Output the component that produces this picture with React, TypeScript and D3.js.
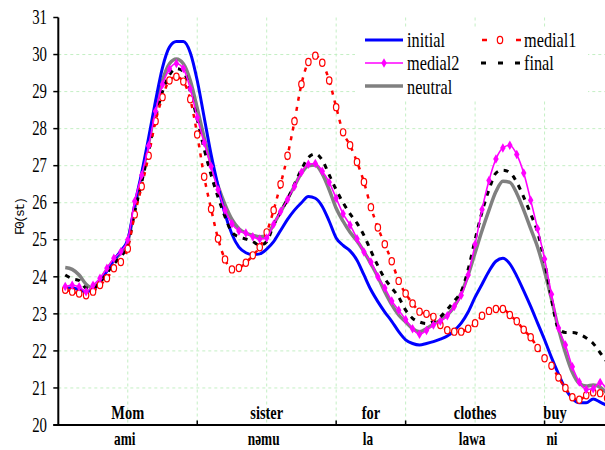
import { useEffect, useRef } from "react";
import * as d3 from "d3";

// normalized time frames (x positions)
const frames = d3.range(1, 80);

const initial = [
  23.7, 23.7, 23.65, 23.6, 23.65, 23.85, 24.15, 24.45, 24.7, 25.0,
  25.95, 26.8, 27.75, 28.75, 29.65, 30.2, 30.35, 30.35, 30.05, 29.3,
  28.3, 27.3, 26.45, 25.7, 25.15, 24.8, 24.65, 24.6, 24.62, 24.75,
  24.95, 25.25, 25.55, 25.8, 26.0, 26.17, 26.12, 25.9, 25.5, 25.05,
  24.85, 24.7, 24.45, 24.05, 23.65, 23.33, 23.05, 22.8, 22.52, 22.3,
  22.2, 22.16, 22.2, 22.25, 22.32, 22.4, 22.55, 22.75, 23.05, 23.45,
  23.8, 24.15, 24.42, 24.5, 24.35, 24.02, 23.62, 23.2, 22.75, 22.3,
  21.82, 21.38, 20.98, 20.72, 20.6, 20.6, 20.7, 20.62, 20.52,
];

const medial1 = [
  23.65, 23.6, 23.55, 23.5, 23.6, 23.78, 23.96, 24.23, 24.4, 24.76,
  25.68, 26.44, 27.27, 28.2, 28.85, 29.3, 29.4, 29.27, 28.79, 27.84,
  26.7, 25.83, 25.03, 24.47, 24.2, 24.24, 24.38, 24.58, 24.8, 25.2,
  25.8, 26.5, 27.27, 28.2, 29.2, 29.8, 29.97, 29.78, 29.3, 28.58,
  27.9, 27.55, 27.1, 26.56, 25.88, 25.33, 24.88, 24.42, 23.89, 23.55,
  23.28, 23.06, 23.0, 22.92, 22.7, 22.56, 22.52, 22.52, 22.6, 22.75,
  22.95, 23.08, 23.13, 23.13, 22.97, 22.8, 22.57, 22.37, 22.08, 21.8,
  21.6, 21.28, 21.0, 20.75, 20.68, 20.8, 20.88, 20.86, 20.73,
];

const medial2 = [
  23.74, 23.77, 23.73, 23.6, 23.77, 23.96, 24.23, 24.5, 24.68, 25.0,
  26.04, 26.74, 27.54, 28.47, 29.19, 29.61, 29.76, 29.62, 29.08, 28.3,
  27.62, 26.98, 26.35, 25.8, 25.43, 25.24, 25.18, 25.08, 25.02, 25.05,
  25.42, 25.76, 26.09, 26.44, 26.82, 27.04, 27.06, 26.85, 26.55, 26.12,
  25.7, 25.4, 25.03, 24.67, 24.4, 24.0, 23.7, 23.35, 23.1, 22.85,
  22.6, 22.45, 22.55, 22.7, 22.8, 22.95, 23.2, 23.5, 24.05, 24.88,
  25.82, 26.6, 27.18, 27.48, 27.55, 27.3, 26.8, 26.07, 25.3, 24.48,
  23.53, 22.62, 22.16, 21.57, 21.16, 20.96, 20.98, 21.15, 20.94,
];

const final = [
  24.05, 23.95, 23.9, 23.7, 23.7, 23.85, 24.1, 24.35, 24.55, 24.85,
  25.75, 26.55, 27.4, 28.3, 29.0, 29.45, 29.62, 29.55, 29.0, 28.25,
  27.45, 26.75, 26.15, 25.62, 25.2, 25.08, 25.02, 24.95, 24.85, 24.95,
  25.4, 25.75, 26.1, 26.5, 26.9, 27.22, 27.32, 27.15, 26.75, 26.35,
  26.0, 25.7, 25.45, 25.12, 24.7, 24.3, 23.95, 23.7, 23.45, 23.1,
  22.88, 22.78, 22.74, 22.8, 22.92, 23.12, 23.35, 23.6, 24.2, 25.0,
  25.75, 26.35, 26.8, 26.88, 26.82, 26.55, 26.15, 25.7, 25.2, 24.4,
  23.4, 22.6, 22.5, 22.5, 22.45, 22.35, 22.2, 21.95, 21.7,
];

const neutral = [
  24.25, 24.2, 24.05, 23.8, 23.7, 23.9, 24.2, 24.45, 24.65, 24.95,
  25.85, 26.7, 27.6, 28.55, 29.3, 29.75, 29.88, 29.75, 29.3, 28.55,
  27.75, 27.05, 26.45, 25.95, 25.55, 25.3, 25.18, 25.12, 25.08, 25.12,
  25.42, 25.75, 26.1, 26.45, 26.8, 27.0, 27.02, 26.78, 26.35, 25.85,
  25.5, 25.2, 24.97, 24.68, 24.35, 24.0, 23.6, 23.25, 22.97, 22.78,
  22.6, 22.52, 22.6, 22.72, 22.83, 22.97, 23.2, 23.55, 24.05, 24.65,
  25.25, 25.8, 26.3, 26.58, 26.55, 26.25, 25.8, 25.3, 24.8, 24.15,
  23.4, 22.6, 21.95, 21.42, 21.12, 21.05, 21.08, 21.02, 20.85,
];

const englishWords = ["Mom", "sister", "for", "clothes", "buy"];
const glossWords = ["ami", "nəmu", "la", "lawa", "ni"];
const wordBounds = [0, 20, 40, 50, 70, 73];
const yTicks = d3.range(20, 32);
const gridFrames = d3.range(10, 80, 10);

const serif = "Liberation Serif, Times New Roman, serif";
// the figure is squeezed horizontally, text looks tall and narrow
const squeeze = 0.74;

export default function App() {
  const ref = useRef<HTMLDivElement>(null);

  useEffect(() => {
    if (!ref.current) return;
    d3.select(ref.current).selectAll("*").remove();

    const width = 605;
    const height = 450;

    const svg = d3
      .select(ref.current)
      .append("svg")
      .attr("width", width)
      .attr("height", height)
      .style("position", "absolute")
      .style("left", "0px")
      .style("top", "0px")
      .style("background", "#fff");

    const x = d3.scaleLinear().domain([0, 78.7]).range([58.3, 605]);
    const y = d3.scaleLinear().domain([20, 31]).range([425, 17.5]);

    // text helper: squeezed serif text anchored at (tx, ty)
    const label = (
      g: d3.Selection<any, any, any, any>,
      tx: number,
      ty: number,
      txt: string,
      size: number,
      anchor = "start",
      bold = false
    ) =>
      g
        .append("text")
        .attr("transform", `translate(${tx},${ty}) scale(${squeeze},1)`)
        .attr("text-anchor", anchor)
        .style("font-family", serif)
        .style("font-size", `${size}px`)
        .style("font-weight", bold ? "bold" : "normal")
        .text(txt);

    svg
      .append("defs")
      .append("clipPath")
      .attr("id", "plot-clip")
      .append("rect")
      .attr("x", x(0))
      .attr("y", 0)
      .attr("width", width - x(0))
      .attr("height", y(20));

    // grid
    const grid = svg.append("g").attr("stroke", "#c4efc4").attr("stroke-dasharray", "3,3");
    grid
      .selectAll("line.h")
      .data(yTicks.filter((d) => d > 20 && d < 31))
      .enter()
      .append("line")
      .attr("x1", x(0))
      .attr("x2", width)
      .attr("y1", (d) => y(d))
      .attr("y2", (d) => y(d));
    grid
      .selectAll("line.v")
      .data(gridFrames)
      .enter()
      .append("line")
      .attr("x1", (d) => x(d))
      .attr("x2", (d) => x(d))
      .attr("y1", y(31))
      .attr("y2", y(20));

    const line = (vals: number[]) =>
      d3
        .line<number>()
        .x((_, i) => x(frames[i]))
        .y((d) => y(d))
        .curve(d3.curveMonotoneX)(vals);

    const plot = svg.append("g").attr("clip-path", "url(#plot-clip)");

    // neutral
    plot
      .append("path")
      .attr("d", line(neutral))
      .attr("fill", "none")
      .attr("stroke", "#808080")
      .attr("stroke-width", 3.5);

    // initial
    plot
      .append("path")
      .attr("d", line(initial))
      .attr("fill", "none")
      .attr("stroke", "#0000ff")
      .attr("stroke-width", 3);

    // final
    plot
      .append("path")
      .attr("d", line(final))
      .attr("fill", "none")
      .attr("stroke", "#000")
      .attr("stroke-width", 3)
      .attr("stroke-dasharray", "5,6");

    // medial1
    plot
      .append("path")
      .attr("d", line(medial1))
      .attr("fill", "none")
      .attr("stroke", "#ff0000")
      .attr("stroke-width", 2.5)
      .attr("stroke-dasharray", "4,6");
    plot
      .selectAll("ellipse.m1")
      .data(medial1)
      .enter()
      .append("ellipse")
      .attr("cx", (_, i) => x(frames[i]))
      .attr("cy", (d) => y(d))
      .attr("rx", 2.7)
      .attr("ry", 3.6)
      .attr("fill", "#fff")
      .attr("stroke", "#ff0000")
      .attr("stroke-width", 1.2);

    // medial2
    plot
      .append("path")
      .attr("d", line(medial2))
      .attr("fill", "none")
      .attr("stroke", "#ff00ff")
      .attr("stroke-width", 1.6);
    const diamond = d3.symbol().type(d3.symbolDiamond).size(26);
    plot
      .selectAll("path.m2")
      .data(medial2)
      .enter()
      .append("path")
      .attr("d", diamond)
      .attr("transform", (d, i) => `translate(${x(frames[i])},${y(d)})`)
      .attr("fill", "#ff00ff");

    // axes
    svg
      .append("line")
      .attr("x1", x(0))
      .attr("x2", x(0))
      .attr("y1", y(31))
      .attr("y2", y(20))
      .attr("stroke", "#000")
      .attr("stroke-width", 2);
    svg
      .append("line")
      .attr("x1", x(0) - 5)
      .attr("x2", width)
      .attr("y1", y(20))
      .attr("y2", y(20))
      .attr("stroke", "#000")
      .attr("stroke-width", 2);

    svg
      .selectAll("line.ytick")
      .data(yTicks)
      .enter()
      .append("line")
      .attr("x1", x(0) - 5)
      .attr("x2", x(0))
      .attr("y1", (d) => y(d))
      .attr("y2", (d) => y(d))
      .attr("stroke", "#000")
      .attr("stroke-width", 1.5);

    yTicks.forEach((d) => label(svg, 47, y(d) + 6.7, String(d), 20, "end"));

    svg
      .selectAll("line.xtick")
      .data(wordBounds.slice(1, -1))
      .enter()
      .append("line")
      .attr("x1", (d) => x(d))
      .attr("x2", (d) => x(d))
      .attr("y1", y(20))
      .attr("y2", y(20) - 4.5)
      .attr("stroke", "#000")
      .attr("stroke-width", 1.5);

    svg
      .append("text")
      .attr("transform", `translate(24,216) rotate(-90)`)
      .attr("text-anchor", "middle")
      .style("font-family", "Liberation Mono, monospace")
      .style("font-size", "13px")
      .attr("textLength", 38)
      .text("F0(st)");

    // word labels
    const mid = (i: number) => x((wordBounds[i] + wordBounds[i + 1]) / 2);
    englishWords.forEach((w, i) => label(svg, mid(i), 418.5, w, 19.5, "middle", true));
    glossWords.forEach((w, i) => label(svg, mid(i) - 3, 445, w, 18, "middle", true));

    // legend
    const lg = svg.append("g");
    lg.append("rect").attr("x", 355).attr("y", 27).attr("width", 233).attr("height", 72).attr("fill", "#fff");

    lg.append("line").attr("x1", 365).attr("x2", 403).attr("y1", 40).attr("y2", 40)
      .attr("stroke", "#0000ff").attr("stroke-width", 3);
    label(lg, 407, 47, "initial", 22);

    lg.append("line").attr("x1", 365).attr("x2", 403).attr("y1", 63).attr("y2", 63)
      .attr("stroke", "#ff00ff").attr("stroke-width", 1.6);
    lg.append("path").attr("d", diamond).attr("transform", "translate(384,63)").attr("fill", "#ff00ff");
    label(lg, 407, 70, "medial2", 22);

    lg.append("line").attr("x1", 365).attr("x2", 403).attr("y1", 86).attr("y2", 86)
      .attr("stroke", "#808080").attr("stroke-width", 3.5);
    label(lg, 407, 94, "neutral", 22);

    lg.append("line").attr("x1", 482).attr("x2", 521).attr("y1", 40).attr("y2", 40)
      .attr("stroke", "#ff0000").attr("stroke-width", 2.5).attr("stroke-dasharray", "5,29");
    lg.append("ellipse").attr("cx", 500).attr("cy", 40).attr("rx", 2.7).attr("ry", 3.6)
      .attr("fill", "#fff").attr("stroke", "#ff0000").attr("stroke-width", 1.2);
    label(lg, 524, 47, "medial1", 22);

    lg.append("line").attr("x1", 481).attr("x2", 521).attr("y1", 63).attr("y2", 63)
      .attr("stroke", "#000").attr("stroke-width", 3).attr("stroke-dasharray", "5,12");
    label(lg, 524, 70, "final", 22);
  }, []);

  return <div ref={ref} />;
}
